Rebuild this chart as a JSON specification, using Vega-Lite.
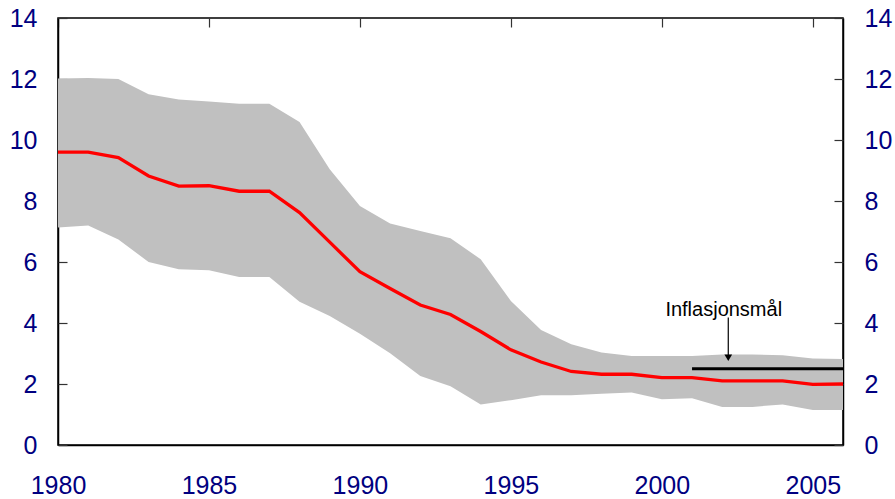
{
  "$schema": "https://vega.github.io/schema/vega-lite/v6.json",
  "autosize": "none",
  "width": 785,
  "height": 427,
  "padding": {"left": 58, "top": 18, "right": 52, "bottom": 54},
  "config": {
    "view": {"stroke": "black", "strokeWidth": 1.5},
    "font": "Liberation Sans",
    "axis": {"grid": false, "title": null, "tickColor": "#333333", "tickWidth": 1.2, "domainColor": "black", "domainWidth": 1.5, "labelFont": "Liberation Sans", "labelFontSize": 25, "labelColor": "#000080"}
  },
  "datasets": {
    "band": [
      {"year": 1980, "lo": 7.13, "mid": 9.6, "hi": 12.02},
      {"year": 1981, "lo": 7.2, "mid": 9.6, "hi": 12.03},
      {"year": 1982, "lo": 6.74, "mid": 9.42, "hi": 12.0},
      {"year": 1983, "lo": 6.0, "mid": 8.82, "hi": 11.5},
      {"year": 1984, "lo": 5.76, "mid": 8.49, "hi": 11.33},
      {"year": 1985, "lo": 5.73, "mid": 8.5, "hi": 11.26},
      {"year": 1986, "lo": 5.51, "mid": 8.32, "hi": 11.19},
      {"year": 1987, "lo": 5.51, "mid": 8.32, "hi": 11.19},
      {"year": 1988, "lo": 4.7, "mid": 7.62, "hi": 10.59},
      {"year": 1989, "lo": 4.23, "mid": 6.65, "hi": 9.04},
      {"year": 1990, "lo": 3.65, "mid": 5.68, "hi": 7.84},
      {"year": 1991, "lo": 3.01, "mid": 5.13, "hi": 7.26},
      {"year": 1992, "lo": 2.26, "mid": 4.59, "hi": 7.02},
      {"year": 1993, "lo": 1.93, "mid": 4.28, "hi": 6.78},
      {"year": 1994, "lo": 1.33, "mid": 3.72, "hi": 6.09},
      {"year": 1995, "lo": 1.47, "mid": 3.12, "hi": 4.72},
      {"year": 1996, "lo": 1.63, "mid": 2.72, "hi": 3.77},
      {"year": 1997, "lo": 1.63, "mid": 2.41, "hi": 3.3},
      {"year": 1998, "lo": 1.68, "mid": 2.32, "hi": 3.03},
      {"year": 1999, "lo": 1.72, "mid": 2.32, "hi": 2.92},
      {"year": 2000, "lo": 1.5, "mid": 2.21, "hi": 2.92},
      {"year": 2001, "lo": 1.53, "mid": 2.21, "hi": 2.92},
      {"year": 2002, "lo": 1.25, "mid": 2.1, "hi": 2.97},
      {"year": 2003, "lo": 1.25, "mid": 2.1, "hi": 2.97},
      {"year": 2004, "lo": 1.33, "mid": 2.1, "hi": 2.94},
      {"year": 2005, "lo": 1.15, "mid": 1.99, "hi": 2.84},
      {"year": 2006, "lo": 1.15, "mid": 2.0, "hi": 2.82}
    ],
    "target": [
      {"year": 2001, "value": 2.5},
      {"year": 2006, "value": 2.5}
    ],
    "note": [
      {"year": 2002.05, "ax": 2002.2, "label": "Inflasjonsmål", "ty": 4.22, "a1": 4.18, "a2": 2.95, "tip": 2.86}
    ]
  },
  "layer": [
    {
      "data": {"name": "band"},
      "mark": {"type": "area", "color": "#c0c0c0"},
      "encoding": {
        "x": {
          "field": "year", "type": "quantitative",
          "scale": {"domain": [1980, 2006], "nice": false, "zero": false},
          "axis": {"values": [1980, 1985, 1990, 1995, 2000, 2005], "format": "d", "tickSize": 0, "labelPadding": 28, "labelFlush": false}
        },
        "y": {
          "field": "lo", "type": "quantitative",
          "scale": {"domain": [0, 14], "nice": false},
          "axis": {"values": [0, 2, 4, 6, 8, 10, 12, 14], "orient": "left", "tickSize": 0, "labelPadding": 21}
        },
        "y2": {"field": "hi"}
      }
    },
    {
      "data": {"name": "band"},
      "mark": {"type": "line", "color": "#ff0000", "strokeWidth": 3.3},
      "encoding": {
        "x": {
          "field": "year", "type": "quantitative",
          "scale": {"domain": [1980, 2006], "nice": false, "zero": false},
          "axis": {"values": [1980, 1985, 1990, 1995, 2000, 2005], "labels": false, "domain": false, "tickSize": 9, "offset": -9}
        },
        "y": {
          "field": "mid", "type": "quantitative",
          "scale": {"domain": [0, 14], "nice": false},
          "axis": {"values": [0, 2, 4, 6, 8, 10, 12, 14], "orient": "right", "tickSize": 0, "labelPadding": 21}
        }
      }
    },
    {
      "data": {"name": "target"},
      "mark": {"type": "line", "color": "black", "strokeWidth": 3},
      "encoding": {
        "x": {"field": "year", "type": "quantitative", "scale": {"domain": [1980, 2006], "nice": false, "zero": false}, "axis": null},
        "y": {
          "field": "value", "type": "quantitative", "scale": {"domain": [0, 14], "nice": false},
          "axis": {"values": [0, 2, 4, 6, 8, 10, 12, 14], "orient": "left", "labels": false, "domain": false, "tickSize": 9, "offset": -9}
        }
      }
    },
    {
      "data": {"name": "note"},
      "mark": {"type": "text", "fontSize": 20, "color": "black", "font": "Liberation Sans", "baseline": "alphabetic"},
      "encoding": {
        "x": {"field": "year", "type": "quantitative", "scale": {"domain": [1980, 2006], "nice": false, "zero": false}, "axis": null},
        "y": {
          "field": "ty", "type": "quantitative", "scale": {"domain": [0, 14], "nice": false},
          "axis": {"values": [0, 2, 4, 6, 8, 10, 12, 14], "orient": "right", "labels": false, "domain": false, "tickSize": 9, "offset": -9}
        },
        "text": {"field": "label"}
      }
    },
    {
      "data": {"name": "note"},
      "mark": {"type": "rule", "color": "black", "strokeWidth": 1.2},
      "encoding": {
        "x": {"field": "ax", "type": "quantitative", "scale": {"domain": [1980, 2006], "nice": false, "zero": false}, "axis": null},
        "y": {"field": "a1", "type": "quantitative", "scale": {"domain": [0, 14], "nice": false}, "axis": null},
        "y2": {"field": "a2"}
      }
    },
    {
      "data": {"name": "note"},
      "mark": {"type": "point", "shape": "triangle-down", "filled": true, "color": "black", "size": 60, "opacity": 1},
      "encoding": {
        "x": {"field": "ax", "type": "quantitative", "scale": {"domain": [1980, 2006], "nice": false, "zero": false}, "axis": null},
        "y": {"field": "tip", "type": "quantitative", "scale": {"domain": [0, 14], "nice": false}, "axis": null}
      }
    }
  ],
  "resolve": {"scale": {"x": "independent", "y": "independent"}}
}
